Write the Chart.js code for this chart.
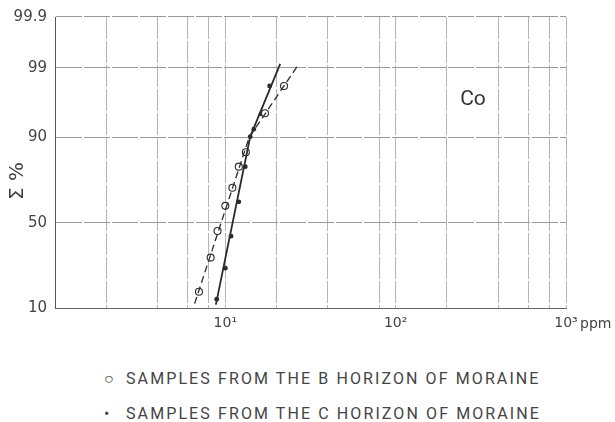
<!DOCTYPE html>
<html>
<head>
<meta charset="utf-8">
<script src="https://cdn.jsdelivr.net/npm/chart.js@4"></script>
<style>
  body { margin: 0; background: #fff; }
  #wrap { position: relative; width: 615px; height: 422px; }
  #plot { position: absolute; left: 0; top: 0; width: 615px; height: 345px; }
  .key {
    position: absolute; left: 0; white-space: nowrap;
    font: 16px Roboto, sans-serif; letter-spacing: 2.1px; color: #444;
  }
  .key span { display: inline-block; width: 22px; }
</style>
</head>
<body>
<div id="wrap">
  <div id="plot"><canvas id="coChart"></canvas></div>
  <div class="key" id="keyB" style="left:104px; top:369px;"><span>○</span>SAMPLES FROM THE B HORIZON OF MORAINE</div>
  <div class="key" id="keyC" style="left:104px; top:404px;"><span>•</span>SAMPLES FROM THE C HORIZON OF MORAINE</div>
</div>
<script>
// B horizon samples (open circles)
const bPpm = [7.0, 8.2, 9.0, 10.0, 11.0, 12.0, 13.2, 17.1, 22.1];
const bPct = [15, 30, 45, 60, 70, 80, 85.5, 95, 98];
// C horizon samples (dots)
const cPpm = [8.9, 10.0, 10.8, 12.0, 13.1, 14.0, 14.7, 16.2, 18.2];
const cPct = [12.5, 24.7, 42, 62.3, 80, 90.2, 92, 94.9, 98];
// hand-fitted distribution lines
const bFitPpm = [6.6, 13.8, 26.7];
const bFitPct = [11.2, 90, 99.1];
const cFitPpm = [8.8, 14.0, 21.0];
const cFitPct = [10.9, 90.2, 99.15];

const xGrid = [1, 2, 4, 6, 8, 10, 20, 40, 80, 100, 200, 400, 600, 800, 1000];
const xLabels = { 10: '10¹', 100: '10²', 1000: '10³' };
const yTicks = [10, 50, 90, 99, 99.9];
const yLabels = ['10', '50', '90', '99', '99.9'];

// inverse normal CDF (Acklam), p in 0..1
const probit = (p) => {
  const a = [-39.69683028665376, 220.9460984245205, -275.9285104469687, 138.3577518672690, -30.66479806614716, 2.506628277459239];
  const b = [-54.47609879822406, 161.5858368580409, -155.6989798598866, 66.80131188771972, -13.28068155288572];
  const c = [-0.007784894002430293, -0.3223964580411365, -2.400758277161838, -2.549732539343734, 4.374664141464968, 2.938163982698783];
  const d = [0.007784695709041462, 0.3224671290700398, 2.445134137142996, 3.754408661907416];
  const lo = 0.02425;
  if (p < lo) {
    const q = Math.sqrt(-2 * Math.log(p));
    return (((((c[0] * q + c[1]) * q + c[2]) * q + c[3]) * q + c[4]) * q + c[5]) /
      ((((d[0] * q + d[1]) * q + d[2]) * q + d[3]) * q + 1);
  }
  if (p > 1 - lo) {
    const q = Math.sqrt(-2 * Math.log(1 - p));
    return -(((((c[0] * q + c[1]) * q + c[2]) * q + c[3]) * q + c[4]) * q + c[5]) /
      ((((d[0] * q + d[1]) * q + d[2]) * q + d[3]) * q + 1);
  }
  const q = p - 0.5;
  const r = q * q;
  return (((((a[0] * r + a[1]) * r + a[2]) * r + a[3]) * r + a[4]) * r + a[5]) * q /
    (((((b[0] * r + b[1]) * r + b[2]) * r + b[3]) * r + b[4]) * r + 1);
};

const toPoints = (ppm, pct) => ppm.map((x, i) => ({ x, y: probit(pct[i] / 100) }));

const ink = '#2b2b2b';

const extraText = {
  id: 'extraText',
  afterDraw(chart) {
    const { ctx, scales } = chart;
    ctx.save();
    ctx.fillStyle = '#444';
    ctx.textBaseline = 'middle';
    ctx.font = '14px "DejaVu Sans", sans-serif';
    ctx.textAlign = 'left';
    ctx.fillText('ppm', scales.x.getPixelForValue(1000) + 14, 324);

    ctx.fillStyle = '#333';
    ctx.font = '21px Roboto, sans-serif';
    ctx.textAlign = 'center';
    ctx.fillText('Co', 473, 100);

    ctx.fillStyle = '#444';
    ctx.translate(18, 181);
    ctx.rotate(-Math.PI / 2);
    ctx.font = '20px "DejaVu Sans", sans-serif';
    ctx.fillText('Σ %', 0, 0);
    ctx.restore();
  },
};

new Chart(document.getElementById('coChart'), {
  type: 'scatter',
  data: {
    datasets: [
      {
        data: toPoints(bFitPpm, bFitPct),
        showLine: true,
        borderColor: ink,
        borderWidth: 1.3,
        borderDash: [7, 4],
        pointRadius: 0,
      },
      {
        data: toPoints(cFitPpm, cFitPct),
        showLine: true,
        borderColor: ink,
        borderWidth: 1.8,
        pointRadius: 0,
      },
      {
        data: toPoints(bPpm, bPct),
        pointRadius: 3.5,
        pointBackgroundColor: '#fff',
        pointBorderColor: ink,
        pointBorderWidth: 1.1,
      },
      {
        data: toPoints(cPpm, cPct),
        pointRadius: 2.4,
        pointBackgroundColor: ink,
        pointBorderColor: ink,
        pointBorderWidth: 0,
      },
    ],
  },
  options: {
    responsive: true,
    maintainAspectRatio: false,
    animation: false,
    layout: { padding: { top: 15, right: 49, bottom: 0, left: 0 } },
    plugins: { legend: { display: false }, tooltip: { enabled: false } },
    scales: {
      x: {
        type: 'logarithmic',
        min: 1,
        max: 1000,
        afterBuildTicks: (scale) => { scale.ticks = xGrid.map((value) => ({ value })); },
        afterFit: (scale) => { scale.height = 37; },
        ticks: {
          autoSkip: false,
          maxRotation: 0,
          padding: 7,
          color: '#444',
          font: { family: '"DejaVu Sans", sans-serif', size: 14 },
          callback: (value) => xLabels[value] || '',
        },
        grid: { color: '#b4b4b4', lineWidth: 1, drawTicks: false },
        border: { color: '#666', dash: [22, 2] },
      },
      y: {
        min: probit(0.10),
        max: probit(0.999),
        afterBuildTicks: (scale) => { scale.ticks = yTicks.map((p) => ({ value: probit(p / 100) })); },
        afterFit: (scale) => { scale.width = 55; },
        ticks: {
          padding: 8,
          color: '#444',
          font: { family: '"DejaVu Sans", sans-serif', size: 15 },
          callback: (value, index) => yLabels[index],
        },
        grid: { color: '#999', lineWidth: 1, drawTicks: false },
        border: { color: '#555', dash: [26, 2] },
      },
    },
  },
  plugins: [extraText],
});
</script>
</body>
</html>
